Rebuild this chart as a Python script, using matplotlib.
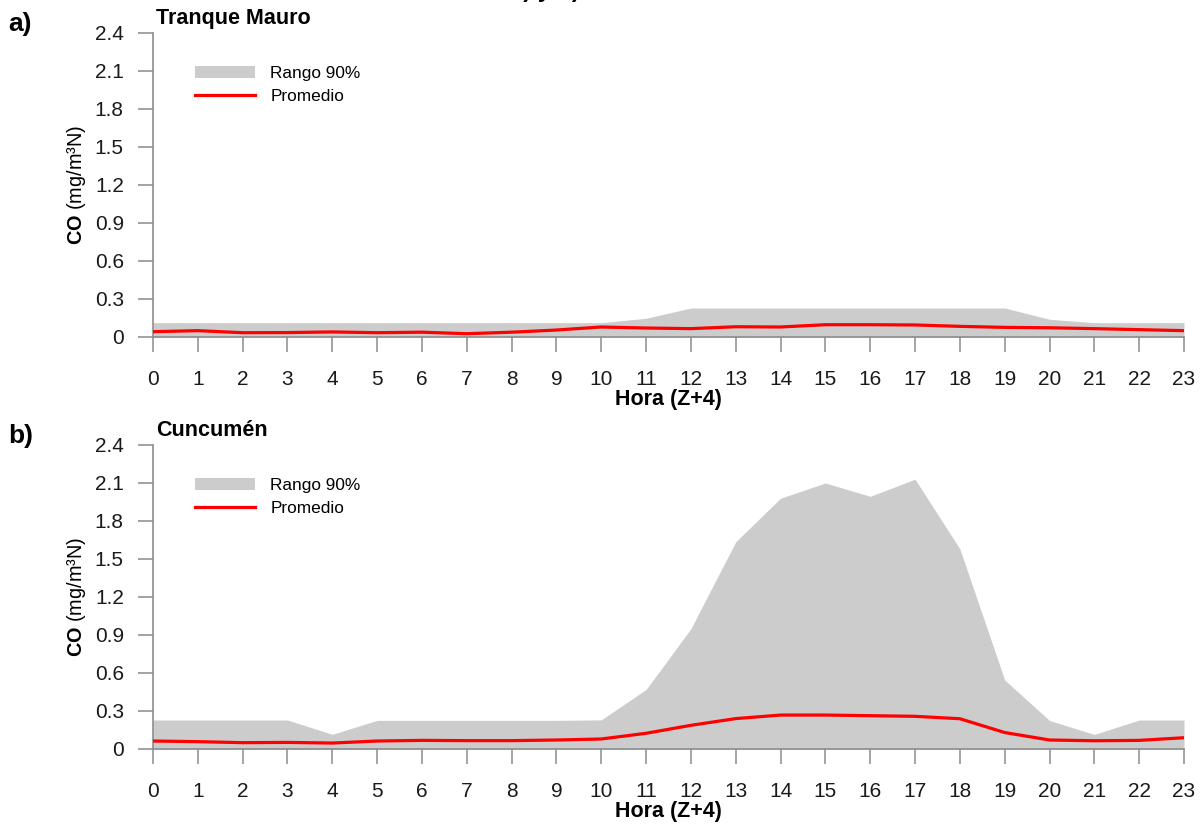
import matplotlib
matplotlib.use("Agg")
import matplotlib.pyplot as plt
from matplotlib.patches import Patch
from matplotlib.lines import Line2D

plt.rcParams['font.family'] = ['Liberation Sans', 'DejaVu Sans']
plt.rcParams['mathtext.fontset'] = 'custom'
plt.rcParams['mathtext.rm'] = 'Liberation Sans'
plt.rcParams['mathtext.bf'] = 'Liberation Sans:bold'

hours = list(range(24))
hour_labels = [str(h) for h in hours]
yticks = [0, 0.3, 0.6, 0.9, 1.2, 1.5, 1.8, 2.1, 2.4]
ytick_labels = ["0", "0.3", "0.6", "0.9", "1.2", "1.5", "1.8", "2.1", "2.4"]

# Tranque Mauro
mauro_mean = [0.042, 0.050, 0.034, 0.035, 0.040, 0.034, 0.038, 0.026, 0.038, 0.055,
              0.079, 0.071, 0.066, 0.081, 0.079, 0.097, 0.097, 0.095, 0.084, 0.076,
              0.073, 0.066, 0.058, 0.050]
mauro_low = [0.0] * 24
mauro_high = [0.113, 0.113, 0.113, 0.113, 0.113, 0.113, 0.113, 0.113, 0.113, 0.113,
              0.113, 0.148, 0.229, 0.229, 0.229, 0.229, 0.229, 0.229, 0.229, 0.229,
              0.140, 0.113, 0.113, 0.113]

# Cuncumén
cuncu_mean = [0.063, 0.058, 0.050, 0.052, 0.047, 0.063, 0.068, 0.066, 0.066, 0.071,
              0.079, 0.124, 0.187, 0.240, 0.268, 0.268, 0.263, 0.258, 0.239, 0.130,
              0.071, 0.065, 0.068, 0.089]
cuncu_low = [0.0] * 24
cuncu_high = [0.229, 0.229, 0.229, 0.229, 0.116, 0.226, 0.226, 0.226, 0.226, 0.226,
              0.230, 0.470, 0.950, 1.636, 1.980, 2.100, 1.995, 2.130, 1.580, 0.545,
              0.225, 0.115, 0.229, 0.229]

panels = [
    ("a)", "Tranque Mauro", mauro_low, mauro_high, mauro_mean),
    ("b)", "Cuncumén", cuncu_low, cuncu_high, cuncu_mean),
]

W, H = 1201, 826
fig = plt.figure(figsize=(W / 100, H / 100), dpi=100)

axis_grey = "#8c8c8c"
band_grey = "#cccccc"

# pixel rectangles (left, top of y=2.4, right, y=0) for each panel
rects = [(153, 33, 1184, 337), (153, 445, 1184, 749)]

for (tag, title, low, high, mean), (x0, y0, x1, y1) in zip(panels, rects):
    ax = fig.add_axes([x0 / W, 1 - y1 / H, (x1 - x0) / W, (y1 - y0) / H])
    ax.fill_between(hours, low, high, color=band_grey, linewidth=0, zorder=1)
    ax.plot(hours, mean, color="#ff0000", linewidth=2.3, zorder=3)

    ax.set_xlim(0, 23)
    ax.set_ylim(0, 2.4)
    ax.set_xticks(hours)
    ax.set_xticklabels(hour_labels)
    ax.set_yticks(yticks)
    ax.set_yticklabels(ytick_labels)

    for side in ("top", "right"):
        ax.spines[side].set_visible(False)
    for side in ("left", "bottom"):
        ax.spines[side].set_color(axis_grey)
        ax.spines[side].set_linewidth(1.2)
    ax.spines["bottom"].set_zorder(4)
    ax.tick_params(axis="both", direction="out", length=11, width=1.1,
                   color=axis_grey, labelsize=15, labelcolor="#1a1a1a")
    ax.tick_params(axis="y", pad=10)
    ax.tick_params(axis="x", pad=13)

    ax.set_xlabel("Hora (Z+4)", fontsize=15.5, fontweight="bold", labelpad=0)
    ax.set_ylabel(r"$\mathbf{CO}$ (mg/m³N)", fontsize=14.3, labelpad=5)

    ax.text(0.003, 1.012, title, transform=ax.transAxes, fontsize=15.5,
            fontweight="bold", ha="left", va="bottom")
    fig.text(8 / W, 1 - (y0 - 9) / H, tag, fontsize=19, fontweight="bold",
             ha="left", va="center")

    handles = [Patch(facecolor=band_grey, edgecolor="none"),
               Line2D([0], [0], color="#ff0000", linewidth=2.3)]
    ax.legend(handles, ["Rango 90%", "Promedio"], loc="upper left",
              bbox_to_anchor=(0.0407, 0.893), frameon=False, fontsize=12.4,
              handlelength=3.5, handleheight=0.7, handletextpad=0.87,
              labelspacing=0.5, borderpad=0, borderaxespad=0)

# title line running off the top edge
fig.text(580 / W, 1 + 3 / H, "a) y b)", fontsize=17, fontweight="bold",
         ha="right", va="baseline")

fig.savefig("out.png", dpi=100)
